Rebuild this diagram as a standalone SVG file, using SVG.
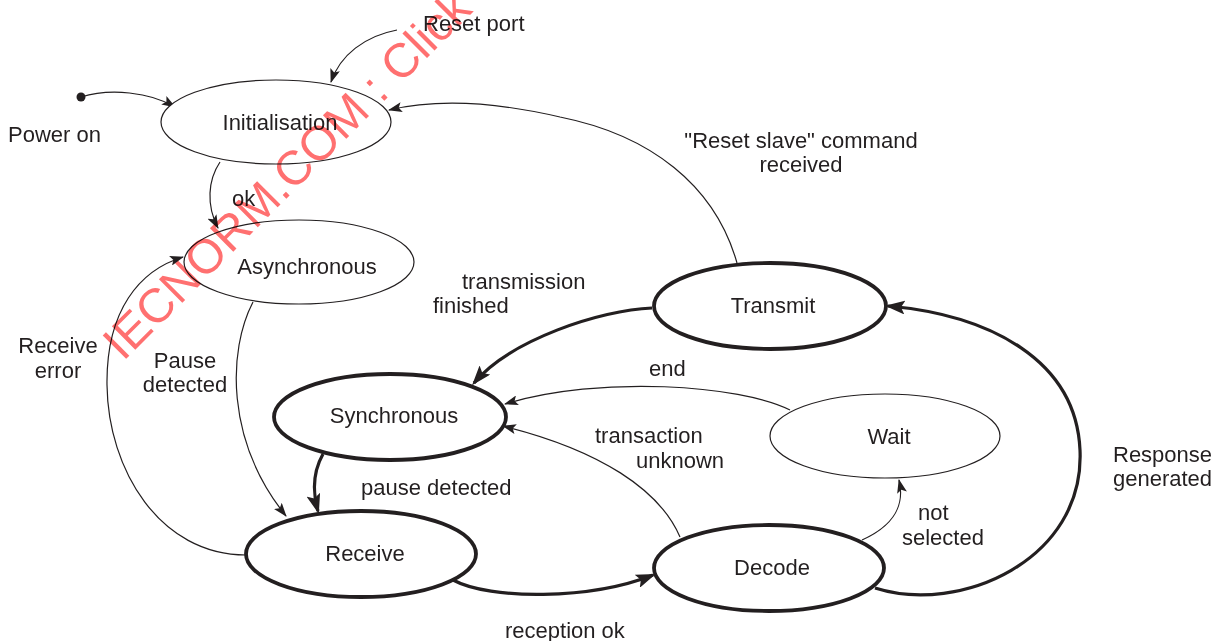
<svg xmlns="http://www.w3.org/2000/svg" width="1223" height="641" viewBox="0 0 1223 641">
<style>
text{font-family:"Liberation Sans",Arial,sans-serif;font-size:22px;fill:#231f20}
.c{text-anchor:middle}
.thin{fill:#fff;stroke:#231f20;stroke-width:1.2}
.thick{fill:#fff;stroke:#231f20;stroke-width:3.8}
.e{fill:none;stroke:#231f20;stroke-width:1.2;marker-end:url(#a)}
.E{fill:none;stroke:#231f20;stroke-width:3.2;marker-end:url(#A)}
.wm{font-size:48px;fill:#ff7070;mix-blend-mode:multiply}
</style>
<defs>
<marker id="a" markerWidth="14" markerHeight="10" refX="13" refY="5" orient="auto" markerUnits="userSpaceOnUse"><path d="M0,0 L14,5 L0,10 L3,5 z" fill="#231f20"/></marker>
<marker id="A" markerWidth="20" markerHeight="14" refX="17" refY="7" orient="auto" markerUnits="userSpaceOnUse"><path d="M0,0 L20,7 L0,14 L4,7 z" fill="#231f20"/></marker>
</defs>
<rect width="1223" height="641" fill="#fff"/>
<g id="connectors">
<circle cx="81" cy="97" r="4.5" fill="#231f20"/>
<path class="e" d="M81,97 C110,88 150,92 175,107"/>
<path class="e" d="M397,30 C365,36 340,55 331,82"/>
<path class="e" d="M737,263 C715,185 650,135 560,117 C500,103 440,98 389,110"/>
<path class="e" d="M220,162 C208,180 206,205 218,228"/>
<path class="e" d="M246,555 C160,555 108,470 107,385 C106,310 140,270 183,257"/>
<path class="e" d="M253,302 C228,350 225,440 286,516"/>
<path class="E" d="M323,454 C314,470 312,490 318,511"/>
<path class="E" d="M652,308 C600,310 510,340 474,383"/>
<path class="e" d="M790,410 C740,385 600,375 505,404"/>
<path class="e" d="M680,537 C660,490 600,450 503,426"/>
<path class="e" d="M862,540 C895,525 905,505 899,480"/>
<path class="E" d="M453,580 C490,600 590,600 653,575"/>
<path class="E" d="M875,588 C960,615 1085,560 1080,450 C1076,360 990,315 888,306"/>
</g>
<g id="initialisation"><ellipse class="thin" cx="276" cy="122" rx="115" ry="42"/><text class="c" x="280" y="130">Initialisation</text></g>
<g id="asynchronous"><ellipse class="thin" cx="299" cy="262" rx="115" ry="42"/><text class="c" x="307" y="274">Asynchronous</text></g>
<g id="synchronous"><ellipse class="thick" cx="390" cy="417" rx="116" ry="43"/><text class="c" x="394" y="423">Synchronous</text></g>
<g id="receive"><ellipse class="thick" cx="361" cy="554" rx="115" ry="43"/><text class="c" x="365" y="561">Receive</text></g>
<g id="transmit"><ellipse class="thick" cx="770" cy="306" rx="116" ry="43"/><text class="c" x="773" y="313">Transmit</text></g>
<g id="wait"><ellipse class="thin" cx="885" cy="436" rx="115" ry="42"/><text class="c" x="889" y="444">Wait</text></g>
<g id="decode"><ellipse class="thick" cx="769" cy="568" rx="115" ry="43"/><text class="c" x="772" y="575">Decode</text></g>
<g id="labels">
<text x="423" y="31">Reset port</text>
<text x="8" y="142">Power on</text>
<text x="232" y="206">ok</text>
<text class="c" x="801" y="148">"Reset slave" command</text>
<text class="c" x="801" y="172">received</text>
<text x="462" y="289">transmission</text>
<text x="433" y="313">finished</text>
<text class="c" x="58" y="353">Receive</text>
<text class="c" x="58" y="378">error</text>
<text class="c" x="185" y="368">Pause</text>
<text class="c" x="185" y="392">detected</text>
<text x="649" y="376">end</text>
<text x="595" y="443">transaction</text>
<text x="636" y="468">unknown</text>
<text x="1113" y="462">Response</text>
<text x="1113" y="486">generated</text>
<text x="361" y="495">pause detected</text>
<text x="918" y="520">not</text>
<text x="902" y="545">selected</text>
<text x="505" y="638">reception ok</text>
</g>
<text class="wm" transform="translate(123,362) rotate(-45)">IECNORM.COM : Click</text>
</svg>
